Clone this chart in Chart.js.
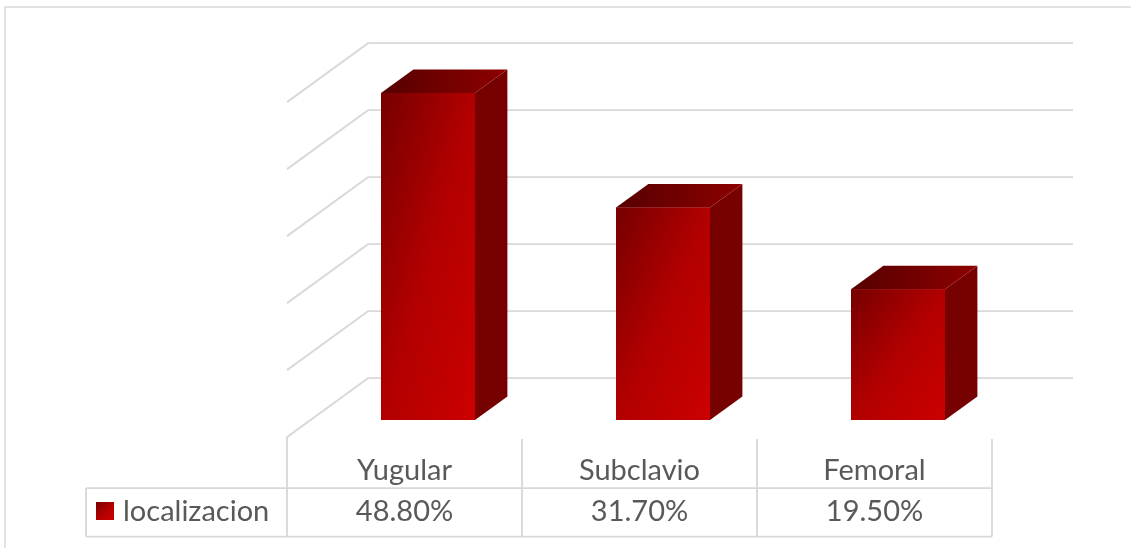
<!DOCTYPE html>
<html>
<head>
<meta charset="utf-8">
<script src="https://cdn.jsdelivr.net/npm/chart.js@4"></script>
<style>
  body { margin: 0; background: #fff; }
  canvas { display: block; }
</style>
</head>
<body>
<canvas id="myChart" width="1131" height="548"></canvas>
<script>
const categories = ['Yugular', 'Subclavio', 'Femoral'];
const values = [48.8, 31.7, 19.5];
const seriesName = 'localizacion';
const yMin = 0, yMax = 50, yStep = 10;

// oblique 3D look: full floor depth, bar sits between these depth fractions
const depth = { dx: 81, dy: -59 };
const barFront = 0.29, barBack = 0.69;
const gridColor = '#d9d9d9';
const textColor = '#595959';
const font = '29px Lato';

function shift(d) {
    return { x: depth.dx * (d - barFront), y: depth.dy * (d - barFront) };
}

function frontGradient(ctx) {
    const g = ctx.createLinearGradient(0, 0, 1, 1);
    g.addColorStop(0, '#760000');
    g.addColorStop(0.5, '#b20000');
    g.addColorStop(1, '#cc0000');
    return g;
}

const bars3d = {
    id: 'bars3d',
    beforeDatasetsDraw(chart) {
        const ctx = chart.ctx;
        const xs = chart.scales.x, ys = chart.scales.y;
        const { left, right } = chart.chartArea;
        const back = shift(1), front = shift(0);
        ctx.save();
        // outer frame
        ctx.strokeStyle = gridColor;
        ctx.lineWidth = 1.5;
        ctx.strokeRect(5, 7, 1300, 700);
        // side wall + back wall grid
        ctx.lineWidth = 1.9;
        ctx.beginPath();
        ys.ticks.forEach(t => {
            const y = ys.getPixelForValue(t.value);
            ctx.moveTo(left + front.x, y + front.y);
            ctx.lineTo(left + back.x, y + back.y);
            ctx.lineTo(right + back.x, y + back.y);
        });
        ctx.stroke();
        ctx.restore();
    },
    afterDatasetsDraw(chart) {
        const ctx = chart.ctx;
        const meta = chart.getDatasetMeta(0);
        const bd = { x: depth.dx * (barBack - barFront), y: depth.dy * (barBack - barFront) };
        meta.data.forEach(bar => {
            const { x, y, base, width } = bar.getProps(['x', 'y', 'base', 'width'], true);
            const l = x - width / 2, r = x + width / 2;
            ctx.save();
            // side face
            ctx.fillStyle = '#770000';
            ctx.beginPath();
            ctx.moveTo(r, y);
            ctx.lineTo(r + bd.x, y + bd.y);
            ctx.lineTo(r + bd.x, base + bd.y);
            ctx.lineTo(r, base);
            ctx.closePath();
            ctx.fill();
            // top face
            const tg = ctx.createLinearGradient(l, 0, r + bd.x, 0);
            tg.addColorStop(0, '#560000');
            tg.addColorStop(1, '#8e0000');
            ctx.fillStyle = tg;
            ctx.beginPath();
            ctx.moveTo(l, y);
            ctx.lineTo(l + bd.x, y + bd.y);
            ctx.lineTo(r + bd.x, y + bd.y);
            ctx.lineTo(r, y);
            ctx.closePath();
            ctx.fill();
            // front face
            ctx.translate(l, y);
            ctx.scale(r - l, base - y);
            ctx.fillStyle = frontGradient(ctx);
            ctx.fillRect(0, 0, 1, 1);
            ctx.restore();
        });
    },
    afterDraw(chart) {
        const ctx = chart.ctx;
        const xs = chart.scales.x, ys = chart.scales.y;
        const front = shift(0);
        const floorY = ys.getPixelForValue(0) + front.y;
        const half = (xs.getPixelForValue(1) - xs.getPixelForValue(0)) / 2;
        const headerBottom = floorY + 51;
        const tableBottom = headerBottom + 48.5;
        const legendLeft = 86;
        const firstEdge = xs.getPixelForValue(0) + front.x - half;
        const lastEdge = xs.getPixelForValue(categories.length - 1) + front.x + half;

        ctx.save();
        ctx.strokeStyle = gridColor;
        ctx.lineWidth = 1.9;
        ctx.beginPath();
        for (let i = 0; i <= categories.length; i++) {
            const ex = firstEdge + i * half * 2;
            ctx.moveTo(ex, floorY + (i === 0 ? 0 : 2));
            ctx.lineTo(ex, tableBottom);
        }
        ctx.moveTo(legendLeft, headerBottom);
        ctx.lineTo(lastEdge, headerBottom);
        ctx.moveTo(legendLeft, tableBottom);
        ctx.lineTo(lastEdge, tableBottom);
        ctx.moveTo(legendLeft, headerBottom);
        ctx.lineTo(legendLeft, tableBottom);
        ctx.stroke();

        ctx.font = font;
        ctx.fillStyle = textColor;
        ctx.textAlign = 'center';
        ctx.textBaseline = 'alphabetic';
        categories.forEach((c, i) => {
            const cx = xs.getPixelForValue(i) + front.x;
            ctx.fillText(c, cx, headerBottom - 8);
            ctx.fillText(values[i].toFixed(2) + '%', cx, tableBottom - 15.5);
        });

        // legend key
        ctx.save();
        ctx.translate(96, 502);
        ctx.scale(18, 18);
        ctx.fillStyle = frontGradient(ctx);
        ctx.fillRect(0, 0, 1, 1);
        ctx.restore();
        ctx.textAlign = 'left';
        ctx.fillText(seriesName, 123, tableBottom - 15.5);
        ctx.restore();
    }
};

const ctx = document.getElementById('myChart').getContext('2d');
const myChart = new Chart(ctx, {
    type: 'bar',
    data: {
        labels: categories,
        datasets: [{
            label: seriesName,
            data: values,
            backgroundColor: '#b00000',
            borderWidth: 0,
            barPercentage: 0.4,
            categoryPercentage: 1.0
        }]
    },
    options: {
        responsive: false,
        animation: false,
        devicePixelRatio: 1,
        layout: { padding: { left: 310.5, right: 115.5, top: 85, bottom: 128 } },
        plugins: { legend: { display: false }, tooltip: { enabled: false } },
        scales: {
            x: { display: false },
            y: { display: false, min: yMin, max: yMax, ticks: { stepSize: yStep } }
        }
    },
    plugins: [bars3d]
});
</script>
</body>
</html>
